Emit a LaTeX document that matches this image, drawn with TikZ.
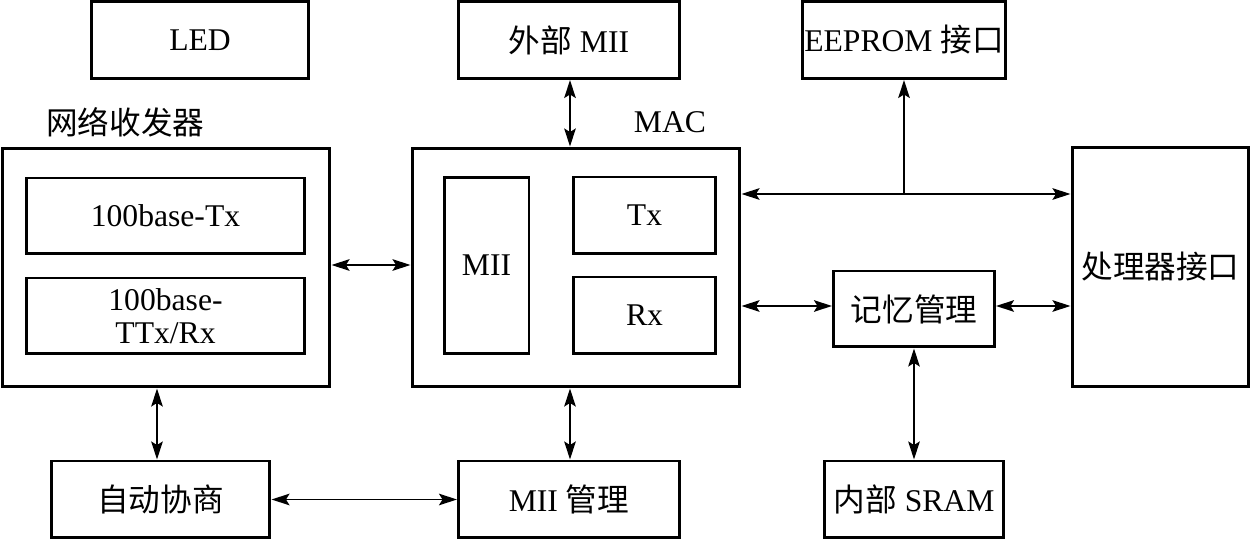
\documentclass[tikz,border=0pt]{standalone}
\usepackage{fontspec}
\setmainfont{Liberation Serif}
\newfontfamily\cjk{Noto Sans CJK SC}
\newcommand{\zh}[1]{{\cjk #1}}
\usetikzlibrary{arrows.meta}

\begin{document}
\begin{tikzpicture}[
  x=0.02cm, y=-0.02cm,
  box/.style={draw, line width=1.7pt, inner sep=0pt, align=center, font=\fontsize{18}{19}\selectfont},
  lbl/.style={inner sep=0pt, font=\fontsize{18}{19}\selectfont},
  arr/.style={{Stealth[length=3.6mm,width=2.3mm,inset=0.7mm]}-{Stealth[length=3.6mm,width=2.3mm,inset=0.7mm]}, line width=1.1pt},
  tip/.style={-{Stealth[length=3.6mm,width=2.3mm,inset=0.7mm]}, line width=1.1pt}
]
\useasboundingbox (0,0) rectangle (1252,540);

% top row
\node[box, minimum width=4.36cm, minimum height=1.54cm] (led) at (200,40) {LED};
\node[box, minimum width=4.42cm, minimum height=1.54cm] (extmii) at (569,40) {\zh{外部} MII};
\node[box, minimum width=4.08cm, minimum height=1.54cm] (eeprom) at (904,40) {EEPROM \zh{接口}};

% labels
\node[lbl, anchor=west] (phylbl) at (46,122) {\zh{网络收发器}};
\node[lbl] (maclbl) at (670,122) {MAC};

% transceiver
\node[box, minimum width=6.56cm, minimum height=4.78cm] (phy) at (166,267.5) {};
\node[box, minimum width=5.58cm, minimum height=1.52cm] (tx100) at (165.5,216) {100base-Tx};
\node[box, minimum width=5.58cm, minimum height=1.52cm] (txrx100) at (165.5,316) {100base-\\TTx/Rx};

% MAC
\node[box, minimum width=6.56cm, minimum height=4.78cm] (mac) at (576,267.5) {};
\node[box, minimum width=1.70cm, minimum height=3.54cm] (mii) at (486.5,265.5) {MII};
\node[box, minimum width=2.86cm, minimum height=1.54cm] (tx) at (644.5,215.5) {Tx};
\node[box, minimum width=2.86cm, minimum height=1.54cm] (rx) at (644.5,315.5) {Rx};

% right side
\node[box, minimum width=3.54cm, minimum height=4.80cm] (cpu) at (1160.5,267) {\zh{处理器接口}};
\node[box, minimum width=3.22cm, minimum height=1.52cm] (mem) at (914,309) {\zh{记忆管理}};

% bottom row
\node[box, minimum width=4.38cm, minimum height=1.54cm] (autoneg) at (160.5,499.5) {\zh{自动协商}};
\node[box, minimum width=4.42cm, minimum height=1.54cm] (miimgmt) at (569,499.5) {MII \zh{管理}};
\node[box, minimum width=3.60cm, minimum height=1.54cm] (sram) at (914,499.5) {\zh{内部} SRAM};

% axes for the connectors
\coordinate (macaxis) at (570,0);
\coordinate (phyaxis) at (157,0);
\coordinate (busrow) at (0,194);
\coordinate (memrow) at (0,306);
\coordinate (linkrow) at (0,265);
\coordinate (branch) at (eeprom.south |- busrow);

\draw[arr] (phy.east |- linkrow) -- (mac.west |- linkrow);
\draw[arr] (extmii.south -| macaxis) -- (mac.north -| macaxis);
\draw[arr] (mac.south -| macaxis) -- (miimgmt.north -| macaxis);
\draw[arr] (phy.south -| phyaxis) -- (autoneg.north -| phyaxis);
\draw[arr] (autoneg) -- (miimgmt);
\draw[arr] (mac.east |- busrow) -- (cpu.west |- busrow);
\draw[tip] (branch) -- (eeprom.south);
\draw[arr] (mac.east |- memrow) -- (mem.west |- memrow);
\draw[arr] (mem.east |- memrow) -- (cpu.west |- memrow);
\draw[arr] (mem) -- (sram);
\end{tikzpicture}
\end{document}
